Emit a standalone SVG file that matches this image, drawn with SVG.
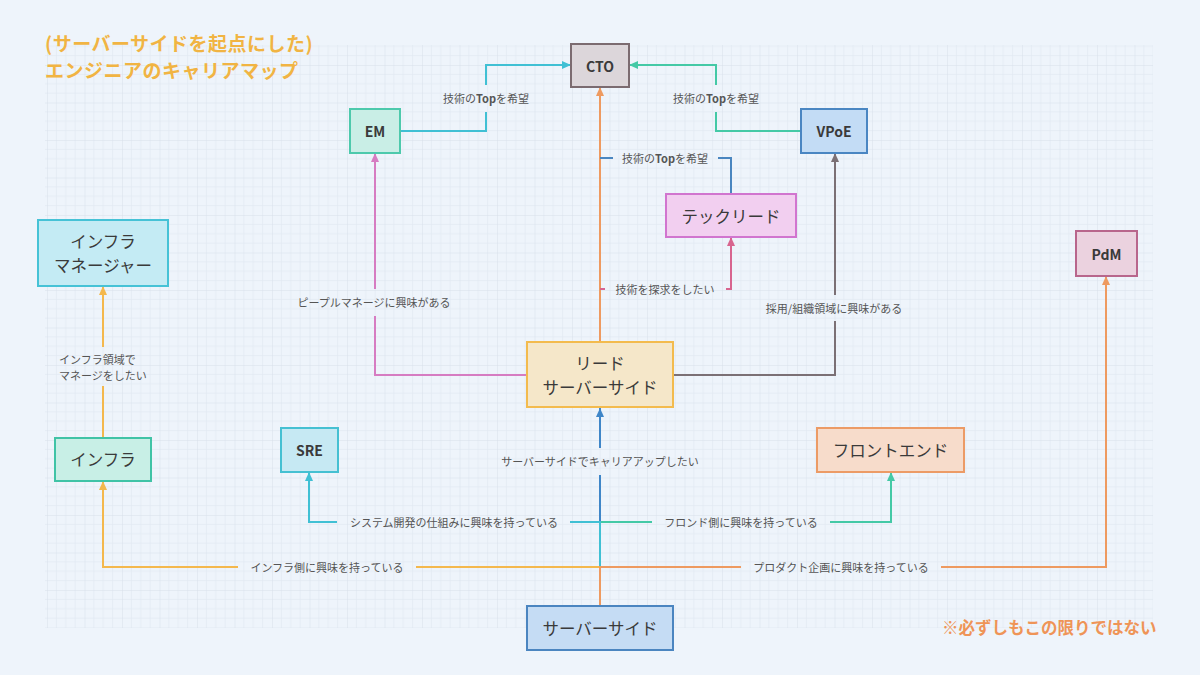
<svg xmlns="http://www.w3.org/2000/svg" width="1200" height="675" viewBox="0 0 1200 675">
<defs>
<style>
text{font-family:"Noto Sans CJK JP","Noto Sans",sans-serif;dominant-baseline:central}
.node{stroke-width:2}
.jp{font-size:16.5px;fill:#3a3a3a;text-anchor:middle}
.en{font-size:14px;font-weight:700;fill:#3a3a3a;text-anchor:middle}
.lbl{font-size:11px;fill:#555;text-anchor:middle}
.c{fill:none;stroke-width:2}
.ttl{font-size:19px;font-weight:700;fill:#f1b443;letter-spacing:0.5px}
</style>
<pattern id="grid" x="9.5" y="27.5" width="37.5" height="37.5" patternUnits="userSpaceOnUse">
<path d="M9.375 0V37.5M18.75 0V37.5M28.125 0V37.5M0 9.375H37.5M0 18.75H37.5M0 28.125H37.5" stroke="#e3eaf3" stroke-width="0.8" fill="none"/>
<path d="M0 0V37.5M0 0H37.5" stroke="#d8e0ea" stroke-width="1" fill="none"/>
</pattern>
<marker id="mOrange" viewBox="0 0 9 8" refX="9" refY="4" markerWidth="9" markerHeight="8" markerUnits="userSpaceOnUse" orient="auto"><path d="M0,0L9,4L0,8z" fill="#ee9a60"/></marker>
<marker id="mBlue" viewBox="0 0 9 8" refX="9" refY="4" markerWidth="9" markerHeight="8" markerUnits="userSpaceOnUse" orient="auto"><path d="M0,0L9,4L0,8z" fill="#3f86c8"/></marker>
<marker id="mCyan" viewBox="0 0 9 8" refX="9" refY="4" markerWidth="9" markerHeight="8" markerUnits="userSpaceOnUse" orient="auto"><path d="M0,0L9,4L0,8z" fill="#40c0d4"/></marker>
<marker id="mTeal" viewBox="0 0 9 8" refX="9" refY="4" markerWidth="9" markerHeight="8" markerUnits="userSpaceOnUse" orient="auto"><path d="M0,0L9,4L0,8z" fill="#44c9a6"/></marker>
<marker id="mYellow" viewBox="0 0 9 8" refX="9" refY="4" markerWidth="9" markerHeight="8" markerUnits="userSpaceOnUse" orient="auto"><path d="M0,0L9,4L0,8z" fill="#f4b84d"/></marker>
<marker id="mPink" viewBox="0 0 9 8" refX="9" refY="4" markerWidth="9" markerHeight="8" markerUnits="userSpaceOnUse" orient="auto"><path d="M0,0L9,4L0,8z" fill="#d67cc2"/></marker>
<marker id="mRose" viewBox="0 0 9 8" refX="9" refY="4" markerWidth="9" markerHeight="8" markerUnits="userSpaceOnUse" orient="auto"><path d="M0,0L9,4L0,8z" fill="#d8658f"/></marker>
<marker id="mGray" viewBox="0 0 9 8" refX="9" refY="4" markerWidth="9" markerHeight="8" markerUnits="userSpaceOnUse" orient="auto"><path d="M0,0L9,4L0,8z" fill="#7b7075"/></marker>
</defs>
<rect width="1200" height="675" fill="#eef4fb"/>
<rect x="45" y="45" width="1108" height="583" fill="url(#grid)"/>

<g id="title">
<text class="ttl" x="45" y="42">(サーバーサイドを起点にした)</text>
<text class="ttl" x="45" y="69">エンジニアのキャリアマップ</text>
</g>

<g id="connectors">
<path class="c" stroke="#3f86c8" d="M600,606V475M600,448V408" marker-end="url(#mBlue)"/>
<path class="c" stroke="#44c9a6" d="M600,606V522H652M830,522H891V472" marker-end="url(#mTeal)"/>
<path class="c" stroke="#40c0d4" d="M600,606V522H570M337,522H309V472" marker-end="url(#mCyan)"/>
<path class="c" stroke="#f4b84d" d="M600,606V567H416M238,567H103V481" marker-end="url(#mYellow)"/>
<path class="c" stroke="#ee9a60" d="M600,606V567H741M941,567H1106V276" marker-end="url(#mOrange)"/>
<path class="c" stroke="#f4b84d" d="M103,438V386M103,347V286" marker-end="url(#mYellow)"/>
<path class="c" stroke="#ee9a60" d="M600,342V87" marker-end="url(#mOrange)"/>
<path class="c" stroke="#d67cc2" d="M527,375H375V316M375,289V153" marker-end="url(#mPink)"/>
<path class="c" stroke="#d8658f" d="M600,289H605M726,289H731V237" marker-end="url(#mRose)"/>
<path class="c" stroke="#4a86c0" d="M731,194V158H718M613,158H600"/>
<path class="c" stroke="#40c0d4" d="M400,131H486V112M486,85V65H571" marker-end="url(#mCyan)"/>
<path class="c" stroke="#44c9a6" d="M801,131H716V112M716,85V65H629" marker-end="url(#mTeal)"/>
<path class="c" stroke="#7b7075" d="M673,375H835V321M835,295V153" marker-end="url(#mGray)"/>
<text class="lbl" x="600" y="461">サーバーサイドでキャリアアップしたい</text>
<text class="lbl" x="454" y="522">システム開発の仕組みに興味を持っている</text>
<text class="lbl" x="741" y="522">フロンド側に興味を持っている</text>
<text class="lbl" x="327" y="567">インフラ側に興味を持っている</text>
<text class="lbl" x="841" y="567">プロダクト企画に興味を持っている</text>
<text class="lbl" x="59" y="359" style="text-anchor:start">インフラ領域で</text>
<text class="lbl" x="59" y="375" style="text-anchor:start">マネージをしたい</text>
<text class="lbl" x="374" y="302">ピープルマネージに興味がある</text>
<text class="lbl" x="665" y="289">技術を探求をしたい</text>
<text class="lbl" x="665" y="158">技術の<tspan font-weight="700">Top</tspan>を希望</text>
<text class="lbl" x="486" y="98">技術の<tspan font-weight="700">Top</tspan>を希望</text>
<text class="lbl" x="716" y="98">技術の<tspan font-weight="700">Top</tspan>を希望</text>
<text class="lbl" x="834" y="308">採用/組織領域に興味がある</text>
</g>

<g id="cto"><rect class="node" x="571" y="44" width="58" height="43" fill="#dcd6da" stroke="#7b6b70"/><text class="en" x="600" y="66">CTO</text></g>
<g id="em"><rect class="node" x="350" y="109" width="50" height="44" fill="#c9eee6" stroke="#4dc9ac"/><text class="en" x="375" y="131">EM</text></g>
<g id="vpoe"><rect class="node" x="801" y="109" width="66" height="44" fill="#c3dcf5" stroke="#4a86c2"/><text class="en" x="834" y="131">VPoE</text></g>
<g id="techlead"><rect class="node" x="666" y="194" width="130" height="43" fill="#f2cff0" stroke="#d175cf"/><text class="jp" x="731" y="215.5">テックリード</text></g>
<g id="pdm"><rect class="node" x="1076" y="231" width="61" height="45" fill="#ebd2df" stroke="#b8668c"/><text class="en" x="1106.5" y="254">PdM</text></g>
<g id="infra-manager"><rect class="node" x="38" y="220" width="130" height="66" fill="#c4ebf4" stroke="#46c2d6"/><text class="jp" x="103" y="241">インフラ</text><text class="jp" x="103" y="264.5">マネージャー</text></g>
<g id="infra"><rect class="node" x="55" y="438" width="96" height="43" fill="#c8efe6" stroke="#40c3a6"/><text class="jp" x="103" y="459">インフラ</text></g>
<g id="sre"><rect class="node" x="281" y="428" width="57" height="44" fill="#c6e9f3" stroke="#45c0d2"/><text class="en" x="309.5" y="450">SRE</text></g>
<g id="lead-server"><rect class="node" x="527" y="342" width="146" height="65" fill="#f5e7c9" stroke="#f3bb4e"/><text class="jp" x="600" y="362.5">リード</text><text class="jp" x="600" y="386.5">サーバーサイド</text></g>
<g id="frontend"><rect class="node" x="817" y="428" width="147" height="44" fill="#f7dccb" stroke="#ec9b66"/><text class="jp" x="890.5" y="450">フロントエンド</text></g>
<g id="server"><rect class="node" x="527" y="606" width="146" height="44" fill="#c5dcf4" stroke="#4b85c0"/><text class="jp" x="600" y="628">サーバーサイド</text></g>

<text x="942" y="627" style="font-size:16.5px;font-weight:700;fill:#ef9457">※必ずしもこの限りではない</text>
</svg>
